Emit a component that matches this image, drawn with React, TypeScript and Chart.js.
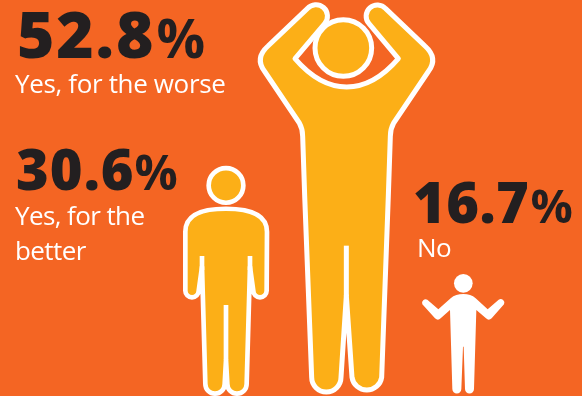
import { useEffect, useRef } from "react";
import { Chart, registerables } from "chart.js";

Chart.register(...registerables);

// Survey answers, in the left-to-right order of the figures.
const categories: string[][] = [["Yes, for the", "better"], ["Yes, for the worse"], ["No"]];
const shares: number[] = [30.6, 52.8, 16.7];

const ORANGE = "#F46523";
const AMBER = "#FCAF17";
const INK = "#231F20";
const WHITE = "#FFFFFF";

// Each glyph is an SVG outline in its own design units; three units are one pixel at full size.
// anchorX and baseY locate the bar's foot inside the glyph, boxHeight is the bar's height in units.
type Glyph = {
  outline: string;
  seams?: string;
  head: [number, number, number];
  anchorX: number;
  baseY: number;
  boxHeight: number;
  fill: string;
  stroke: number;
};

const standingGlyph: Glyph = {
  outline:
    "M168 146 C236 146 291 160 291 215 L290 392 A20 20 0 0 1 250 392 L240 320 L230 672 A29 29 0 0 1 172 672 L168 600 L164 672 A29 29 0 0 1 106 672 L96 320 L86 392 A20 20 0 0 1 46 392 L46 215 C46 160 100 146 168 146 Z",
  seams: "M96 288 L96 330 M240 288 L240 330 M168 435 L168 600",
  head: [168, 76, 52],
  anchorX: 170,
  baseY: 702,
  boxHeight: 680,
  fill: AMBER,
  stroke: 14,
};

const armsRaisedGlyph: Glyph = {
  outline:
    "M172 27 A33 33 0 0 1 224 72 L135 177 C185 235 240 262 290 262 C340 262 395 235 445 177 L357 72 A33 33 0 0 1 407 27 L525 139 Q565 175 536 214 L431 370 Q421 388 421 410 L415 588 L395 1133 A45 45 0 0 1 306 1133 L289 888 L273 1133 A44 44 0 0 1 185 1133 L164 588 L158 410 Q158 388 148 370 L43 214 Q14 175 54 139 Z",
  seams: "M289 738 L289 890",
  head: [280, 145, 85],
  anchorX: 285,
  baseY: 1183,
  boxHeight: 1173,
  fill: AMBER,
  stroke: 15,
};

const shruggingGlyph: Glyph = {
  outline:
    "M160 87 C175 87 187 90 197 100 L233 133 L266 104 A11 11 0 0 1 282 118 L245 160 Q236 168 228 160 L199 135 L192 372 A13.5 13.5 0 0 1 165 372 L161 245 L159 245 L154 372 A13.5 13.5 0 0 1 127 372 L120 135 L92 160 Q84 168 75 160 L37 118 A11 11 0 0 1 52 104 L85 133 L122 100 C132 90 145 87 160 87 Z",
  head: [160, 55, 28],
  anchorX: 160,
  baseY: 387,
  boxHeight: 371,
  fill: WHITE,
  stroke: 0,
};

const glyphs: Glyph[] = [standingGlyph, armsRaisedGlyph, shruggingGlyph];

// Caption blocks: the figure with its percent sign, then the label lines below it.
const captionPlacement = [
  { x: 16, figureY: 190, size: 56, track: 1, percentX: 134.5, percentSize: 48, labelX: 15, labelY: 225, labelTrack: -0.6 },
  { x: 17, figureY: 58, size: 64, track: 1.8, percentX: 156.5, percentSize: 54, labelX: 15, labelY: 93, labelTrack: -0.35 },
  { x: 413, figureY: 223, size: 56, track: 0.4, percentX: 530.5, percentSize: 47, labelX: 417, labelY: 257, labelTrack: -0.6 },
];

const drawGlyph = (ctx: CanvasRenderingContext2D, g: Glyph, cx: number, top: number, base: number) => {
  const k = (base - top) / g.boxHeight;
  ctx.save();
  ctx.translate(cx - g.anchorX * k, base - g.baseY * k);
  ctx.scale(k, k);
  ctx.fillStyle = g.fill;
  ctx.strokeStyle = WHITE;
  ctx.lineWidth = g.stroke;
  ctx.lineJoin = "round";
  ctx.lineCap = "butt";
  const body = new Path2D(g.outline);
  ctx.fill(body);
  if (g.stroke) ctx.stroke(body);
  if (g.seams) ctx.stroke(new Path2D(g.seams));
  ctx.beginPath();
  ctx.arc(g.head[0], g.head[1], g.head[2], 0, Math.PI * 2);
  ctx.fill();
  if (g.stroke) ctx.stroke();
  ctx.restore();
};

const pictogramPlugin = {
  id: "pictogram",
  afterDatasetsDraw(chart: Chart) {
    const ctx = chart.ctx;
    chart.getDatasetMeta(0).data.forEach((bar: any, i: number) => {
      drawGlyph(ctx, glyphs[i], bar.x, bar.y, bar.base);
    });

    ctx.save();
    ctx.textBaseline = "alphabetic";
    ctx.textAlign = "left";
    shares.forEach((share, i) => {
      const p = captionPlacement[i];
      ctx.fillStyle = INK;
      ctx.font = `800 ${p.size}px "Open Sans"`;
      (ctx as any).letterSpacing = `${p.track}px`;
      ctx.fillText(share.toFixed(1), p.x, p.figureY);
      ctx.font = `700 ${p.percentSize}px "Open Sans"`;
      (ctx as any).letterSpacing = "0px";
      ctx.fillText("%", p.percentX, p.figureY);

      ctx.fillStyle = WHITE;
      ctx.font = '400 26px "Open Sans"';
      (ctx as any).letterSpacing = `${p.labelTrack}px`;
      categories[i].forEach((line, j) => ctx.fillText(line, p.labelX, p.labelY + j * 35));
    });
    ctx.restore();
  },
};

export default function App() {
  const ref = useRef<HTMLCanvasElement>(null);

  useEffect(() => {
    const chart = new Chart(ref.current!, {
      type: "bar",
      data: {
        labels: categories,
        datasets: [{ data: shares, backgroundColor: "rgba(0,0,0,0)", categoryPercentage: 1, barPercentage: 1 }],
      },
      options: {
        responsive: false,
        animation: false,
        layout: { padding: { left: 167.5, right: 59.5, top: 3, bottom: 2 } },
        plugins: { legend: { display: false }, tooltip: { enabled: false } },
        scales: {
          x: { display: false },
          y: { display: false, min: 0, max: 52.8 },
        },
      },
      plugins: [pictogramPlugin],
    });
    return () => chart.destroy();
  }, []);

  return (
    <div style={{ position: "fixed", left: 0, top: 0, width: 582, height: 396, background: ORANGE }}>
      <canvas ref={ref} width={582} height={396} style={{ display: "block" }} />
    </div>
  );
}
